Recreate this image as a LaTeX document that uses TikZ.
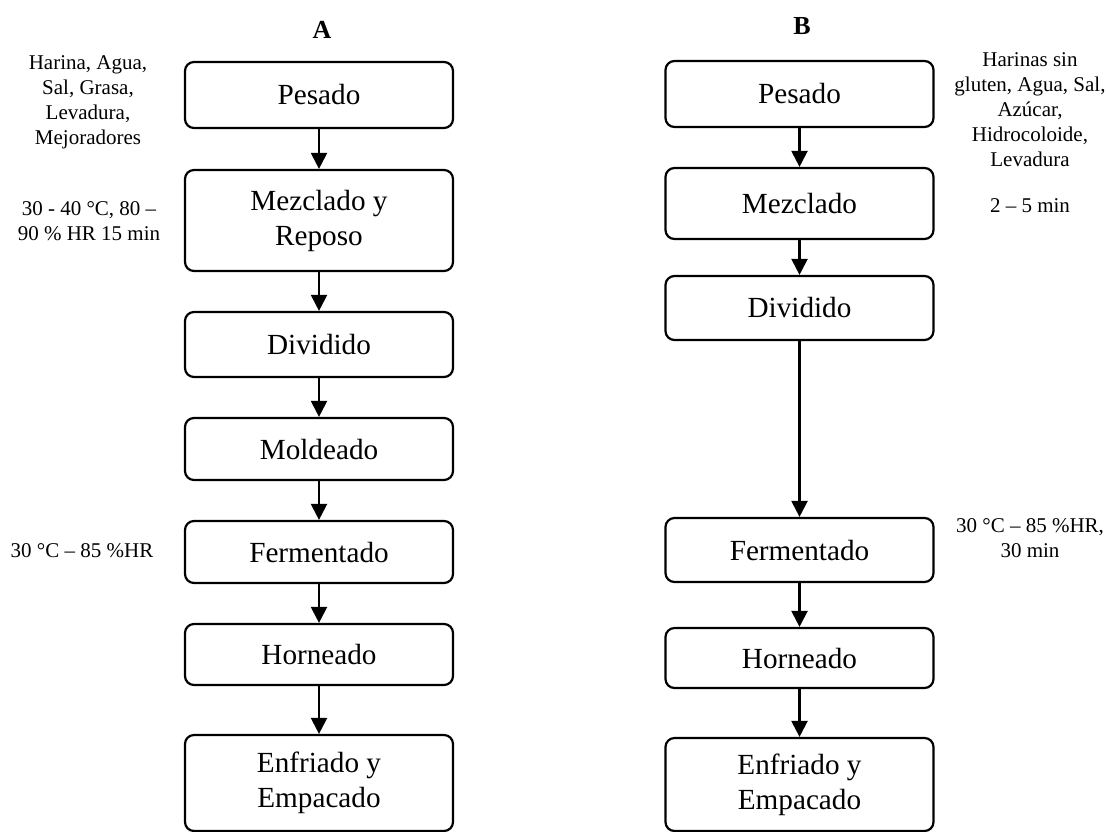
\documentclass[tikz,border=0pt]{standalone}
\usepackage{fontspec}
\setmainfont{Liberation Serif}
\usetikzlibrary{arrows.meta}
\begin{document}
\begin{tikzpicture}[x=0.5pt,y=-0.5pt,
  stepbox/.style={draw=black, line width=1.1pt, rounded corners=4.5pt,
    minimum width=134pt, align=center, inner sep=0pt,
    font=\fontsize{14.6}{17.5}\selectfont},
  note/.style={align=center, inner sep=0pt,
    font=\fontsize{10.5}{12.5}\selectfont},
  head/.style={inner sep=0pt, font=\fontsize{13}{15}\selectfont\bfseries},
  flow/.style={line width=1.1pt, -{Triangle[length=8pt,width=8pt]}}]
\useasboundingbox (0,0) rectangle (1106,831);

% column headings
\node[head] (hA) at (322,30) {A};
\node[head] (hB) at (802,26) {B};

% process A
\node[stepbox, minimum height=33pt]   (a1) at (319,95)    {Pesado};
\node[stepbox, minimum height=50.5pt] (a2) at (319,220.5) {Mezclado y\\Reposo};
\node[stepbox, minimum height=32.5pt] (a3) at (319,344.5) {Dividido};
\node[stepbox, minimum height=31pt]   (a4) at (319,449)   {Moldeado};
\node[stepbox, minimum height=31pt]   (a5) at (319,552)   {Fermentado};
\node[stepbox, minimum height=30.5pt] (a6) at (319,654.5) {Horneado};
\node[stepbox, minimum height=48pt]   (a7) at (319,783)   {Enfriado y\\Empacado};

\foreach \u/\v in {a1/a2,a2/a3,a3/a4,a4/a5,a5/a6,a6/a7}
  \draw[flow] (\u) -- (\v);

% conditions for A
\node[note] (nA1) at (88,102) {Harina, Agua,\\Sal, Grasa,\\Levadura,\\Mejoradores};
\node[note] (nA2) at (89,221) {30 - 40 °C, 80 –\\90 \% HR 15 min};
\node[note] (nA3) at (82,551) {30 °C – 85 \%HR};

% process B
\node[stepbox, minimum height=33pt]   (b1) at (799.5,94)  {Pesado};
\node[stepbox, minimum height=35.5pt] (b2) at (799.5,203.5) {Mezclado};
\node[stepbox, minimum height=32pt]   (b3) at (799.5,308) {Dividido};
\node[stepbox, minimum height=32pt]   (b4) at (799.5,550) {Fermentado};
\node[stepbox, minimum height=30pt]   (b5) at (799.5,658) {Horneado};
\node[stepbox, minimum height=46.5pt] (b6) at (799.5,784.5) {Enfriado y\\Empacado};

\foreach \u/\v in {b1/b2,b2/b3,b3/b4,b4/b5,b5/b6}
  \draw[flow] (\u) -- (\v);

% conditions for B
\node[note] (nB1) at (1030,110) {Harinas sin\\gluten, Agua, Sal,\\Azúcar,\\Hidrocoloide,\\Levadura};
\node[note] (nB2) at (1030,206) {2 – 5 min};
\node[note] (nB3) at (1030,538) {30 °C – 85 \%HR,\\30 min};
\end{tikzpicture}
\end{document}
